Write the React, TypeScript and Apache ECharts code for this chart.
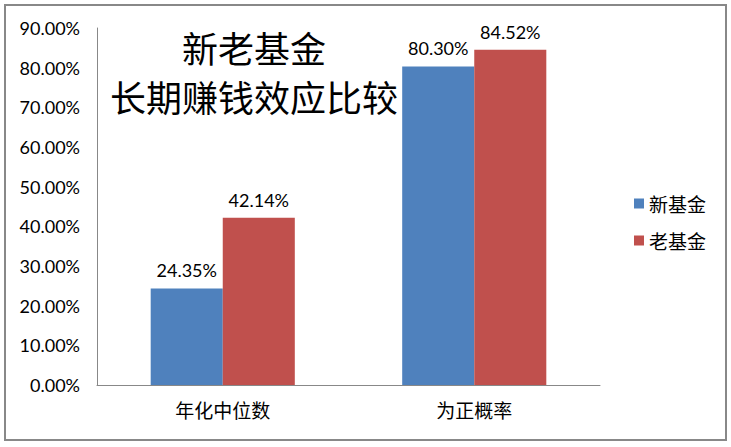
import React, { useEffect, useRef } from "react";
import * as echarts from "echarts";

const categories = ["年化中位数", "为正概率"];
const newFund = [0.2435, 0.803];
const oldFund = [0.4214, 0.8452];
const seriesNames = ["新基金", "老基金"];
const titleLines = ["新老基金", "长期赚钱效应比较"];

const pct = (v: number) => (v * 100).toFixed(2) + "%";

export default function App() {
  const ref = useRef<HTMLDivElement>(null);
  useEffect(() => {
    const chart = echarts.init(ref.current!, undefined, { renderer: "svg" });
    const labelStyle = {
      show: true,
      position: "top" as const,
      distance: 9,
      fontFamily: "Lato",
      fontSize: 18,
      color: "#000",
      formatter: (p: any) => pct(p.value),
    };
    chart.setOption({
      animation: false,
      backgroundColor: "#fff",
      grid: { left: 97, right: 131, top: 28, bottom: 62 },
      xAxis: {
        type: "category",
        data: categories,
        axisLine: { lineStyle: { color: "#888", width: 1 } },
        axisTick: { show: false },
        axisLabel: { color: "#000", fontSize: 19, fontFamily: "Noto Sans CJK SC", margin: 15 },
      },
      yAxis: {
        type: "value",
        min: 0,
        max: 0.9,
        interval: 0.1,
        splitLine: { show: false },
        axisLine: { show: true, lineStyle: { color: "#888", width: 1 } },
        axisTick: { show: false },
        axisLabel: {
          color: "#000",
          fontSize: 18,
          fontFamily: "Lato",
          margin: 17,
          formatter: (v: number) => pct(v),
        },
      },
      legend: {
        orient: "vertical",
        left: 629,
        top: 189,
        itemWidth: 10,
        itemHeight: 10,
        itemGap: 18,
        icon: "rect",
        textStyle: { fontSize: 19, fontFamily: "Noto Sans CJK SC", color: "#000" },
        data: seriesNames,
      },
      series: [
        {
          name: seriesNames[0],
          type: "bar",
          data: newFund,
          barGap: "0%",
          barCategoryGap: "42.7%",
          itemStyle: { color: "#4F81BD" },
          label: labelStyle,
        },
        {
          name: seriesNames[1],
          type: "bar",
          data: oldFund,
          barGap: "0%",
          barCategoryGap: "42.7%",
          itemStyle: { color: "#C0504D" },
          label: labelStyle,
        },
      ],
      graphic: [
        {
          type: "rect",
          shape: { x: 5, y: 5, width: 721, height: 435 },
          style: { fill: "none", stroke: "#888", lineWidth: 2 },
          silent: true,
        },
        {
          type: "text",
          x: 254,
          y: 47,
          style: {
            text: titleLines[0],
            font: "36px 'Noto Sans CJK SC'",
            fill: "#000",
            align: "center",
            verticalAlign: "middle",
          },
        },
        {
          type: "text",
          x: 254,
          y: 96,
          style: {
            text: titleLines[1],
            font: "36px 'Noto Sans CJK SC'",
            fill: "#000",
            align: "center",
            verticalAlign: "middle",
          },
        },
      ],
    });
    return () => chart.dispose();
  }, []);
  return (
    <div
      ref={ref}
      style={{ position: "fixed", left: 0, top: 0, width: 731, height: 447 }}
    />
  );
}
